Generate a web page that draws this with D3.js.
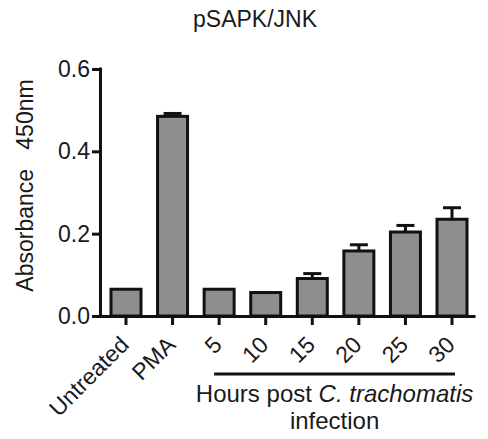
<!DOCTYPE html>
<html>
<head>
<meta charset="utf-8">
<script src="https://cdn.jsdelivr.net/npm/d3@7"></script>
<style>
  body { margin: 0; background: #fff; }
  svg text { font-family: "Liberation Sans", Arial, sans-serif; fill: #1a1a1a; }
</style>
</head>
<body>
<script>
// data
var categories = ["Untreated", "PMA", "5", "10", "15", "20", "25", "30"];
var values = [0.065, 0.485, 0.065, 0.057, 0.091, 0.158, 0.204, 0.235];
var errors = [0, 0.007, 0, 0, 0.012, 0.015, 0.016, 0.028];
var yTicks = [0.0, 0.2, 0.4, 0.6];
var hourCats = ["5", "30"]; // first and last of the infection group

var width = 488, height = 439;

var svg = d3.select("body").append("svg")
    .attr("width", width)
    .attr("height", height);

// set the ranges
var y = d3.scaleLinear()
    .domain([0, 0.6])
    .range([316, 69]);

var x = d3.scaleBand()
    .domain(categories)
    .range([102.7, 475.3])
    .paddingInner(0.356)
    .paddingOuter(0.178);

var data = categories.map(function(c, i) {
    return {cat: c, value: values[i], err: errors[i]};
});

// bars
svg.selectAll(".bar")
    .data(data)
    .enter().append("rect")
        .attr("class", "bar")
        .attr("x", function(d) { return x(d.cat); })
        .attr("y", function(d) { return y(d.value); })
        .attr("width", x.bandwidth())
        .attr("height", function(d) { return y(0) - y(d.value); })
        .attr("fill", "#8e8e8c")
        .attr("stroke", "#111")
        .attr("stroke-width", 3);

// error bars (upper only)
var eb = svg.selectAll(".err")
    .data(data.filter(function(d) { return d.err > 0; }))
    .enter().append("g")
        .attr("class", "err")
        .attr("stroke", "#111")
        .attr("stroke-width", 3);
eb.append("line")
    .attr("x1", function(d) { return x(d.cat) + x.bandwidth() / 2; })
    .attr("x2", function(d) { return x(d.cat) + x.bandwidth() / 2; })
    .attr("y1", function(d) { return y(d.value); })
    .attr("y2", function(d) { return y(d.value + d.err); });
eb.append("line")
    .attr("x1", function(d) { return x(d.cat) + x.bandwidth() / 2 - 9; })
    .attr("x2", function(d) { return x(d.cat) + x.bandwidth() / 2 + 9; })
    .attr("y1", function(d) { return y(d.value + d.err); })
    .attr("y2", function(d) { return y(d.value + d.err); });

// y axis
var yAxis = svg.append("g")
    .attr("transform", "translate(100,0)")
    .call(d3.axisLeft(y).tickValues(yTicks).tickFormat(d3.format(".1f"))
        .tickSize(8).tickSizeOuter(0).tickPadding(2));

// x axis
var xAxis = svg.append("g")
    .attr("transform", "translate(0,316)")
    .call(d3.axisBottom(x).tickSize(9).tickSizeOuter(0));
xAxis.select(".domain").attr("d", "M98.5,0.5H475.5");

[yAxis, xAxis].forEach(function(g) {
    g.select(".domain").attr("stroke", "#111").attr("stroke-width", 3);
    g.selectAll(".tick line").attr("stroke", "#111").attr("stroke-width", 3);
});
yAxis.select(".domain").attr("d", "M0.5,67.5V317.5");

yAxis.selectAll(".tick text")
    .attr("font-size", 23)
    .attr("fill", "#1a1a1a");

xAxis.selectAll(".tick text")
    .attr("font-size", 23)
    .attr("fill", "#1a1a1a")
    .attr("text-anchor", "end")
    .attr("x", null).attr("y", null)
    .attr("dy", "0.35em")
    .attr("transform", "translate(-1.5,24.5) rotate(-45)");

// group bracket for infection hours
var bx0 = x(hourCats[0]) + x.bandwidth() / 2 - 5;
var bx1 = x(hourCats[1]) + x.bandwidth() / 2 + 3;
svg.append("line")
    .attr("x1", bx0).attr("x2", bx1)
    .attr("y1", 374).attr("y2", 374)
    .attr("stroke", "#111")
    .attr("stroke-width", 3);

var gLabel = svg.append("text")
    .attr("x", (bx0 + bx1) / 2)
    .attr("y", 402)
    .attr("text-anchor", "middle")
    .attr("font-size", 24);
gLabel.append("tspan").text("Hours post ");
gLabel.append("tspan").attr("font-style", "italic").text("C. trachomatis");

svg.append("text")
    .attr("x", (bx0 + bx1) / 2)
    .attr("y", 429)
    .attr("text-anchor", "middle")
    .attr("font-size", 24)
    .text("infection");

// y axis title
svg.append("text")
    .attr("transform", "translate(33,185.5) rotate(-90)")
    .attr("text-anchor", "middle")
    .attr("font-size", 23)
    .attr("xml:space", "preserve")
    .style("white-space", "pre")
    .text("Absorbance   450nm");

// chart title
svg.append("text")
    .attr("x", 255)
    .attr("y", 27)
    .attr("text-anchor", "middle")
    .attr("font-size", 23)
    .text("pSAPK/JNK");
</script>
</body>
</html>
